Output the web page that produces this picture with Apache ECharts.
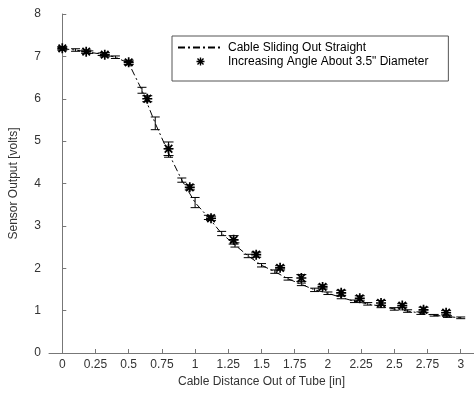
<!DOCTYPE html>
<html>
<head>
<meta charset="utf-8">
<script src="https://cdn.jsdelivr.net/npm/echarts@6/dist/echarts.min.js"></script>
<style>html,body{margin:0;padding:0;background:#fff}#c{width:474px;height:394px}</style>
</head>
<body>
<div id="c"></div>
<script>
// --- data ---
const xTicks = [0, 0.25, 0.5, 0.75, 1, 1.25, 1.5, 1.75, 2, 2.25, 2.5, 2.75, 3];
const yTicks = [0, 1, 2, 3, 4, 5, 6, 7, 8];

const straightX = [0, 0.1, 0.2, 0.3, 0.4, 0.5, 0.6, 0.7, 0.8, 0.9, 1.0, 1.1, 1.2, 1.3, 1.4, 1.5, 1.6, 1.7, 1.8, 1.9, 2.0, 2.1, 2.2, 2.3, 2.4, 2.5, 2.6, 2.7, 2.8, 2.9, 3.0];
const straightY = [7.18, 7.15, 7.10, 7.05, 6.98, 6.84, 6.20, 5.42, 4.72, 4.08, 3.55, 3.20, 2.82, 2.55, 2.29, 2.07, 1.92, 1.75, 1.62, 1.49, 1.41, 1.31, 1.22, 1.16, 1.10, 1.04, 0.99, 0.94, 0.89, 0.86, 0.83];
const straightErr = [0.03, 0.03, 0.03, 0.03, 0.03, 0.04, 0.07, 0.15, 0.10, 0.05, 0.12, 0.05, 0.05, 0.05, 0.04, 0.04, 0.04, 0.03, 0.03, 0.04, 0.03, 0.03, 0.03, 0.03, 0.03, 0.03, 0.03, 0.03, 0.02, 0.02, 0.02];

const angleX = [0, 0.18, 0.32, 0.5, 0.64, 0.8, 0.96, 1.12, 1.29, 1.46, 1.64, 1.8, 1.96, 2.1, 2.24, 2.4, 2.56, 2.72, 2.89];
const angleY = [7.19, 7.11, 7.04, 6.86, 6.0, 4.82, 3.91, 3.18, 2.67, 2.32, 2.01, 1.77, 1.56, 1.42, 1.29, 1.18, 1.12, 1.02, 0.95];
const angleErr = [0.04, 0.04, 0.05, 0.05, 0.07, 0.16, 0.06, 0.05, 0.10, 0.06, 0.05, 0.08, 0.05, 0.06, 0.06, 0.06, 0.05, 0.06, 0.05];

const nameStraight = 'Cable Sliding Out Straight';
const nameAngle = 'Increasing Angle About 3.5" Diameter';

// --- build ---
const star = 'path://M8.3 0L11.7 0L11.7 20L8.3 20Z M0 8.3L20 8.3L20 11.7L0 11.7Z M3.7 1.2L18.8 16.3L16.3 18.8L1.2 3.7Z M16.3 1.2L18.8 3.7L3.7 18.8L1.2 16.3Z';
function errData(xs, ys, es) {
  return xs.map((x, i) => [x, ys[i] - es[i], ys[i] + es[i]]);
}
function errRender(capHalf) {
  return function (params, api) {
    const x = api.value(0);
    const lo = api.coord([x, api.value(1)]);
    const hi = api.coord([x, api.value(2)]);
    const st = { stroke: '#000', lineWidth: 1 };
    return {
      type: 'group',
      children: [
        { type: 'line', shape: { x1: lo[0], y1: lo[1], x2: hi[0], y2: hi[1] }, style: st },
        { type: 'line', shape: { x1: lo[0] - capHalf, y1: lo[1], x2: lo[0] + capHalf, y2: lo[1] }, style: st },
        { type: 'line', shape: { x1: hi[0] - capHalf, y1: hi[1], x2: hi[0] + capHalf, y2: hi[1] }, style: st }
      ]
    };
  };
}
const axisFont = { fontFamily: 'Liberation Sans, Arial, sans-serif', fontSize: 12, color: '#333' };
const chart = echarts.init(document.getElementById('c'), null, { renderer: 'canvas' });
chart.setOption({
  animation: false,
  backgroundColor: '#fff',
  grid: { left: 43.5, right: -2, top: 14, bottom: 41, containLabel: false },
  legend: {
    orient: 'vertical',
    left: 172, top: 36,
    padding: [5, 20, 13, 5],
    itemGap: 1,
    itemWidth: 45, itemHeight: 8,
    borderColor: '#555', borderWidth: 1, borderRadius: 0,
    backgroundColor: '#fff',
    textStyle: { fontFamily: 'Liberation Sans, Arial, sans-serif', fontSize: 12, color: '#000', lineHeight: 13 },
    data: [
      { name: nameStraight, itemStyle: { opacity: 0 } },
      { name: nameAngle }
    ]
  },
  xAxis: {
    type: 'value', min: -0.1, max: 3.1,
    name: 'Cable Distance Out of Tube [in]', nameLocation: 'middle', nameGap: 23,
    nameTextStyle: axisFont,
    axisLine: { lineStyle: { color: '#777' } },
    axisTick: { inside: true, length: 4, customValues: xTicks, lineStyle: { color: '#777' } },
    axisLabel: Object.assign({ customValues: xTicks, margin: 6, formatter: v => String(v) }, axisFont),
    splitLine: { show: false }
  },
  yAxis: {
    type: 'value', min: 0, max: 8, interval: 1,
    name: 'Sensor Output [volts]', nameLocation: 'middle', nameGap: 29, nameRotate: 90,
    nameTextStyle: axisFont,
    axisLine: { show: true, lineStyle: { color: '#777' } },
    axisTick: { show: true, inside: true, length: 4, lineStyle: { color: '#777' } },
    axisLabel: Object.assign({ margin: 8 }, axisFont),
    splitLine: { show: false }
  },
  series: [
    {
      name: nameStraight, type: 'line', symbol: 'none',
      data: straightX.map((x, i) => [x, straightY[i]]),
      lineStyle: { color: '#000', width: 1, type: [7, 3, 2, 3] },
      itemStyle: { color: '#000' }
    },
    {
      name: 'errStraight', type: 'custom', renderItem: errRender(4.5),
      data: errData(straightX, straightY, straightErr), z: 3
    },
    {
      name: 'errAngle', type: 'custom', renderItem: errRender(5),
      data: errData(angleX, angleY, angleErr), z: 3
    },
    {
      name: nameAngle, type: 'scatter', symbol: star, symbolSize: 10,
      data: angleX.map((x, i) => [x, angleY[i]]),
      itemStyle: { color: '#000', opacity: 1 }, z: 4
    }
  ]
});
</script>
</body>
</html>
